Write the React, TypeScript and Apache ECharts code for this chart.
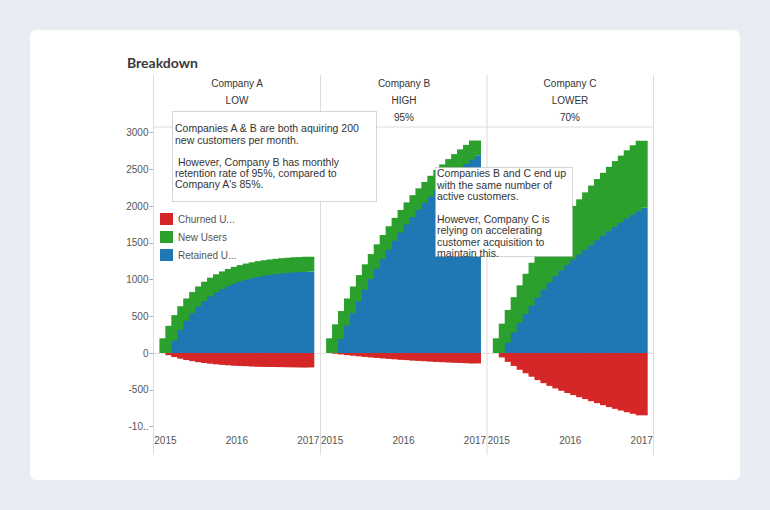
import React, { useEffect, useRef } from "react";
import * as echarts from "echarts";

const months = [
  "2015-01", "2015-02", "2015-03", "2015-04", "2015-05", "2015-06", "2015-07", "2015-08", "2015-09",
  "2015-10", "2015-11", "2015-12", "2016-01", "2016-02", "2016-03", "2016-04", "2016-05", "2016-06",
  "2016-07", "2016-08", "2016-09", "2016-10", "2016-11", "2016-12", "2017-01",
];
// empty slots of the continuous date axis before / after the data
const leadSlots = ["2014-11", "2014-12"];
const trailSlots = ["2017-02", "2017-03"];
const yearLabels = ["2015", "2016", "2017"];
const yearTickMonths = ["2015-01", "2016-01", "2017-01"];
const yTicks = [-1000, -500, 0, 500, 1000, 1500, 2000, 2500, 3000];

const companies = ["Company A", "Company B", "Company C"];
const acquisitionLevels = ["LOW", "HIGH", "LOWER"];
const retentionLabels = ["85%", "95%", "70%"];
const seriesNames = ["Churned Users", "New Users", "Retained Users"];

// Company A
const retainedA = [0, 170, 315, 437, 542, 631, 706, 770, 825, 871, 910, 944, 972, 996, 1017, 1034, 1049, 1062, 1073, 1082, 1089, 1096, 1102, 1106, 1110];
const newA = [200, 200, 200, 200, 200, 200, 200, 200, 200, 200, 200, 200, 200, 200, 200, 200, 200, 200, 200, 200, 200, 200, 200, 200, 200];
const churnedA = [0, -30, -56, -77, -96, -111, -125, -136, -146, -154, -161, -167, -172, -176, -179, -183, -185, -187, -189, -191, -192, -193, -194, -195, -196];

// Company B
const retainedB = [0, 190, 371, 542, 705, 860, 1007, 1146, 1279, 1405, 1525, 1639, 1747, 1849, 1947, 2040, 2128, 2211, 2291, 2366, 2438, 2506, 2571, 2632, 2691];
const newB = [200, 200, 200, 200, 200, 200, 200, 200, 200, 200, 200, 200, 200, 200, 200, 200, 200, 200, 200, 200, 200, 200, 200, 200, 200];
const churnedB = [0, -10, -20, -29, -37, -45, -53, -60, -67, -74, -80, -86, -92, -97, -103, -107, -112, -116, -121, -125, -128, -132, -135, -139, -142];

// Company C
const retainedC = [0, 140, 280, 410, 531, 645, 755, 860, 956, 1044, 1124, 1199, 1270, 1337, 1401, 1464, 1530, 1595, 1657, 1716, 1773, 1828, 1880, 1930, 1978];
const newC = [200, 260, 306, 349, 390, 433, 474, 506, 535, 562, 589, 615, 640, 665, 690, 722, 748, 772, 795, 817, 838, 858, 877, 895, 910];
const churnedC = [0, -60, -120, -176, -228, -276, -323, -369, -410, -447, -482, -514, -544, -573, -601, -627, -656, -683, -710, -736, -760, -783, -806, -827, -848];

const note1 = [
  "Companies A & B are both aquiring 200",
  "new customers per month.",
  "",
  " However, Company B has monthly",
  "retention rate of 95%, compared to",
  "Company A's 85%.",
];
const note2 = [
  "Companies B and C end up",
  "with the same number of",
  "active customers.",
  "",
  "However, Company C is",
  "relying on accelerating",
  "customer acquisition to",
  "maintain this.",
];

const FONT = "'Liberation Sans', Arial, sans-serif";
const COLORS = { churn: "#d62728", new: "#2ca02c", retained: "#1f77b4" };

export default function App() {
  const ref = useRef<HTMLDivElement>(null);

  useEffect(() => {
    const chart = echarts.init(ref.current!, null, { renderer: "svg" });
    const panels = [
      { r: retainedA, n: newA, c: churnedA },
      { r: retainedB, n: newB, c: churnedB },
      { r: retainedC, n: newC, c: churnedC },
    ];
    const axisMonths = [...leadSlots, ...months, ...trailSlots];
    const pad = (arr: number[]) => [...leadSlots.map(() => null), ...arr, ...trailSlots.map(() => null)];

    const gridLeft = [153.5, 320.2, 486.9];
    const gridW = 166.7;
    const top = 127;
    const height = 302;
    const yMin = -1034;
    const yMax = 3075;

    const grids = gridLeft.map((l) => ({ left: l, top, width: gridW, height, containLabel: false }));
    const xAxes = gridLeft.map((_, k) => ({
      type: "category",
      gridIndex: k,
      data: axisMonths,
      boundaryGap: false,
      axisLine: { show: true, lineStyle: { color: "#d4d4d4", type: [2, 2] } },
      axisTick: { show: false },
      splitLine: { show: false },
      axisLabel: {
        interval: (_i: number, v: string) => yearTickMonths.includes(v),
        formatter: (v: string) => {
          const idx = yearTickMonths.indexOf(v);
          return idx >= 0 ? yearLabels[idx] : "";
        },
        color: "#555",
        fontSize: 10,
        fontFamily: FONT,
        margin: 6,
      },
    }));
    const yAxes = gridLeft.map((_, k) => ({
      type: "value",
      gridIndex: k,
      min: yMin,
      max: yMax,
      axisLine: { show: false },
      splitLine: { show: false },
      axisTick: k === 0 ? { show: true, customValues: yTicks, length: 4, lineStyle: { color: "#aaa" } } : { show: false },
      axisLabel: k === 0
        ? {
            customValues: yTicks,
            formatter: (v: number) => (v === -1000 ? "-10.." : String(v)),
            color: "#555",
            fontSize: 10,
            fontFamily: FONT,
            margin: 5,
          }
        : { show: false },
    }));

    const series: any[] = [];
    panels.forEach((p, k) => {
      const common = { type: "bar", xAxisIndex: k, yAxisIndex: k, stack: "s" + k, barWidth: 12, animation: false };
      series.push({ ...common, name: "Retained Users", itemStyle: { color: COLORS.retained }, data: pad(p.r) });
      series.push({ ...common, name: "New Users", itemStyle: { color: COLORS.new }, data: pad(p.n) });
      series.push({ ...common, name: "Churned Users", itemStyle: { color: COLORS.churn }, data: pad(p.c) });
    });

    const lines: any[] = [];
    [153.5, 320.5, 487, 653.5].forEach((x) =>
      lines.push({ type: "line", z: 1, shape: { x1: x, y1: 75, x2: x, y2: 455 }, style: { stroke: "#dcdcdc", lineWidth: 1 } })
    );
    lines.push({ type: "line", z: 1, shape: { x1: 153.5, y1: 127, x2: 653.5, y2: 127 }, style: { stroke: "#dcdcdc", lineWidth: 1 } });

    const headers: any[] = [];
    const centers = [237, 404, 570];
    companies.forEach((c, k) => {
      [c, acquisitionLevels[k], retentionLabels[k]].forEach((t, j) => {
        headers.push({
          type: "text",
          z: 5,
          x: centers[k],
          y: 83 + j * 17,
          style: { text: t, font: `10px ${FONT}`, fill: "#333", textAlign: "center", textVerticalAlign: "middle" },
        });
      });
    });

    const option: any = {
      animation: false,
      backgroundColor: "#e8edf4",
      grid: grids,
      xAxis: xAxes,
      yAxis: yAxes,
      legend: {
        data: seriesNames,
        orient: "vertical",
        left: 160,
        top: 213,
        padding: 0,
        icon: "rect",
        itemWidth: 13,
        itemHeight: 12,
        itemGap: 6,
        selectedMode: false,
        formatter: (name: string) => (name === "New Users" ? name : name.split(" ")[0] + " U..."),
        textStyle: { color: "#555", fontSize: 10, fontFamily: FONT },
      },
      series,
      graphic: [
        { type: "rect", z: -10, shape: { x: 30, y: 30, width: 710, height: 450, r: 6 }, style: { fill: "#ffffff" } },
        {
          type: "text",
          z: 5,
          x: 127,
          y: 62,
          style: { text: "Breakdown", font: "bold 14px Lato, 'Open Sans', sans-serif", fill: "#3a3a3a", textVerticalAlign: "middle" },
        },
        ...lines,
        ...headers,
        {
          type: "rect",
          z: 100,
          shape: { x: 172.5, y: 111.5, width: 204, height: 90 },
          style: { fill: "#ffffff", stroke: "#aaaaaa", lineWidth: 1, lineDash: [1, 1] },
        },
        {
          type: "text",
          z: 101,
          x: 175,
          y: 122.8,
          style: { text: note1.join("\n"), font: `10.5px ${FONT}`, lineHeight: 11.2, fill: "#333", textVerticalAlign: "top" },
        },
        {
          type: "rect",
          z: 100,
          shape: { x: 435.5, y: 167.5, width: 137, height: 89 },
          style: { fill: "#ffffff", stroke: "#aaaaaa", lineWidth: 1, lineDash: [1, 1] },
        },
        {
          type: "text",
          z: 101,
          x: 437,
          y: 167.5,
          style: { text: note2.join("\n"), font: `10.5px ${FONT}`, lineHeight: 11.4, fill: "#333", textVerticalAlign: "top" },
        },
      ],
    };
    chart.setOption(option);
    return () => chart.dispose();
  }, []);

  return <div ref={ref} style={{ position: "absolute", left: 0, top: 0, width: 770, height: 510 }} />;
}
